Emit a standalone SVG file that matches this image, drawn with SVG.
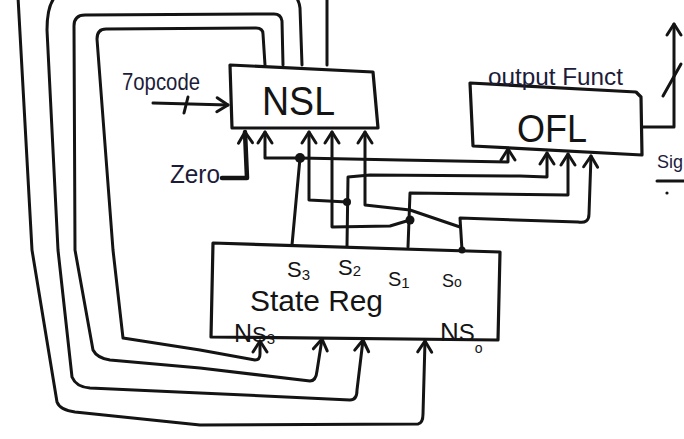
<svg xmlns="http://www.w3.org/2000/svg" width="684" height="439" viewBox="0 0 684 439">
<style>
.ln{fill:none;stroke:#141414;stroke-width:3;stroke-linecap:round;stroke-linejoin:round}
.bx{fill:none;stroke:#141414;stroke-width:3.2;stroke-linejoin:round}
.ink{font-family:"Liberation Sans",Arial,sans-serif;fill:#1c1c3a}
.big{font-family:"Liberation Sans",Arial,sans-serif;fill:#141414}
.dot{fill:#141414}
</style>
<defs>
<marker id="ah" viewBox="-13 -9 15 18" refX="0" refY="0" markerWidth="15" markerHeight="18" markerUnits="userSpaceOnUse" orient="auto" overflow="visible">
<path d="M-11,-7 L0,0 L-11,7" fill="none" stroke="#141414" stroke-width="3" stroke-linecap="round" stroke-linejoin="round"/>
</marker>
</defs>
<rect width="684" height="439" fill="#ffffff"/>

<g id="nsl">
<path class="bx" d="M230,65 L373,72 L378,128 L232,128 Z"/>
<text class="big" x="262" y="115" font-size="40" textLength="73" lengthAdjust="spacingAndGlyphs">NSL</text>
</g>

<g id="ofl">
<path class="bx" d="M470,83 L636,92 L641,97 L642,155 L473,146 Z"/>
<text class="ink" x="488" y="85" font-size="24" textLength="135" lengthAdjust="spacingAndGlyphs">output Funct</text>
<text class="big" x="517" y="142" font-size="38" textLength="70" lengthAdjust="spacingAndGlyphs">OFL</text>
</g>

<g id="state-reg">
<path class="bx" d="M213,243 L500,252 L498,340 L211,337 Z"/>
<text class="big" x="287" y="277" font-size="22">S<tspan font-size="15" dy="3">3</tspan></text>
<text class="big" x="338" y="275" font-size="22">S<tspan font-size="15" dy="1">2</tspan></text>
<text class="big" x="388" y="286" font-size="20">S<tspan font-size="15" dy="2">1</tspan></text>
<text class="big" x="442" y="287" font-size="18">S<tspan font-size="14">o</tspan></text>
<text class="big" x="250" y="311" font-size="30" textLength="133" lengthAdjust="spacingAndGlyphs">State Reg</text>
<text class="big" x="234" y="342" font-size="25">N<tspan font-size="22">S</tspan><tspan font-size="15" dy="2">3</tspan></text>
<text class="big" x="440" y="341" font-size="26">N<tspan font-size="24">S</tspan><tspan font-size="14" dy="12">o</tspan></text>
</g>

<g id="opcode-input">
<text class="ink" x="122" y="90" font-size="24" textLength="78" lengthAdjust="spacingAndGlyphs">7opcode</text>
</g>
<g id="zero-input">
<text class="ink" x="170" y="183" font-size="26" textLength="50" lengthAdjust="spacingAndGlyphs">Zero</text>
</g>
<g id="signals-output">
<text class="ink" x="657" y="168" font-size="19" textLength="26" lengthAdjust="spacingAndGlyphs">Sig</text>
<path class="ln" d="M657,181 L684,181"/>
<circle class="dot" cx="667" cy="193" r="1.6"/>
</g>

<g id="connectors">
<!-- opcode input -->
<path class="ln" d="M153,103 L228,105" marker-end="url(#ah)"/>
<path class="ln" d="M188,97 L184,113"/>
<!-- zero input -->
<path class="ln" d="M222,178 L247,178 L245,132" marker-end="url(#ah)" style="stroke-width:4.5"/>
<!-- output -->
<path class="ln" d="M643,127 L674,127 L674,24" marker-end="url(#ah)"/>
<path class="ln" d="M663,96 L681,64"/>

<!-- S3 -->
<path class="ln" d="M292,245 L300,158"/>
<path class="ln" d="M300,158 L265,158 L265,132" marker-end="url(#ah)"/>
<path class="ln" d="M300,158 L400,160 L508,162 L508,149" marker-end="url(#ah)"/>
<circle class="dot" cx="300" cy="158" r="5"/>
<!-- S2 -->
<path class="ln" d="M347,246 L348,177 L370,175 L520,176 L547,177 L547,153" marker-end="url(#ah)"/>
<path class="ln" d="M347,202 L309,200 L309,132" marker-end="url(#ah)"/>
<circle class="dot" cx="347" cy="202" r="4"/>
<!-- S1 -->
<path class="ln" d="M408,247 L410,193 L568,195 L568,154" marker-end="url(#ah)"/>
<path class="ln" d="M410,220 L390,226 L332,227 L332,132" marker-end="url(#ah)"/>
<circle class="dot" cx="410" cy="220" r="4.5"/>
<!-- S0 -->
<path class="ln" d="M462,250 L460,218 L578,222 Q589,224 589,214 L591,156" marker-end="url(#ah)"/>
<path class="ln" d="M460,227 L410,210 L365,205 L365,132" marker-end="url(#ah)"/>
<circle class="dot" cx="462" cy="250" r="3.5"/>

<!-- feedback loops NSL -> State Reg -->
<path class="ln" d="M327,65 L327,-3"/>
<path class="ln" d="M18,-3 L32,250 L57,402 Q60,410 75,412 L200,425 L418,424 Q423,423 423,414 L425,341" marker-end="url(#ah)"/>
<path class="ln" d="M302,65 L300,8 Q299,0 295,-4"/>
<path class="ln" d="M55,-3 Q47,6 47,30 L58,250 L72,377 Q76,387 90,388 L200,393 L350,400 Q357,400 357,390 L363,340" marker-end="url(#ah)"/>
<path class="ln" d="M283,65 L282,21 Q281,14 274,14 L85,15 Q74,15 74,26 L75,250 L93,350 Q97,358 110,360 L200,368 L310,381 Q316,381 317,371 L322,339" marker-end="url(#ah)"/>
<path class="ln" d="M265,65 L263,34 Q263,28 256,28 L106,29 Q97,29 97,39 L113,250 L123,338 L200,350 L255,360 Q260,360 260,354 L260,341" marker-end="url(#ah)"/>
</g>
</svg>
